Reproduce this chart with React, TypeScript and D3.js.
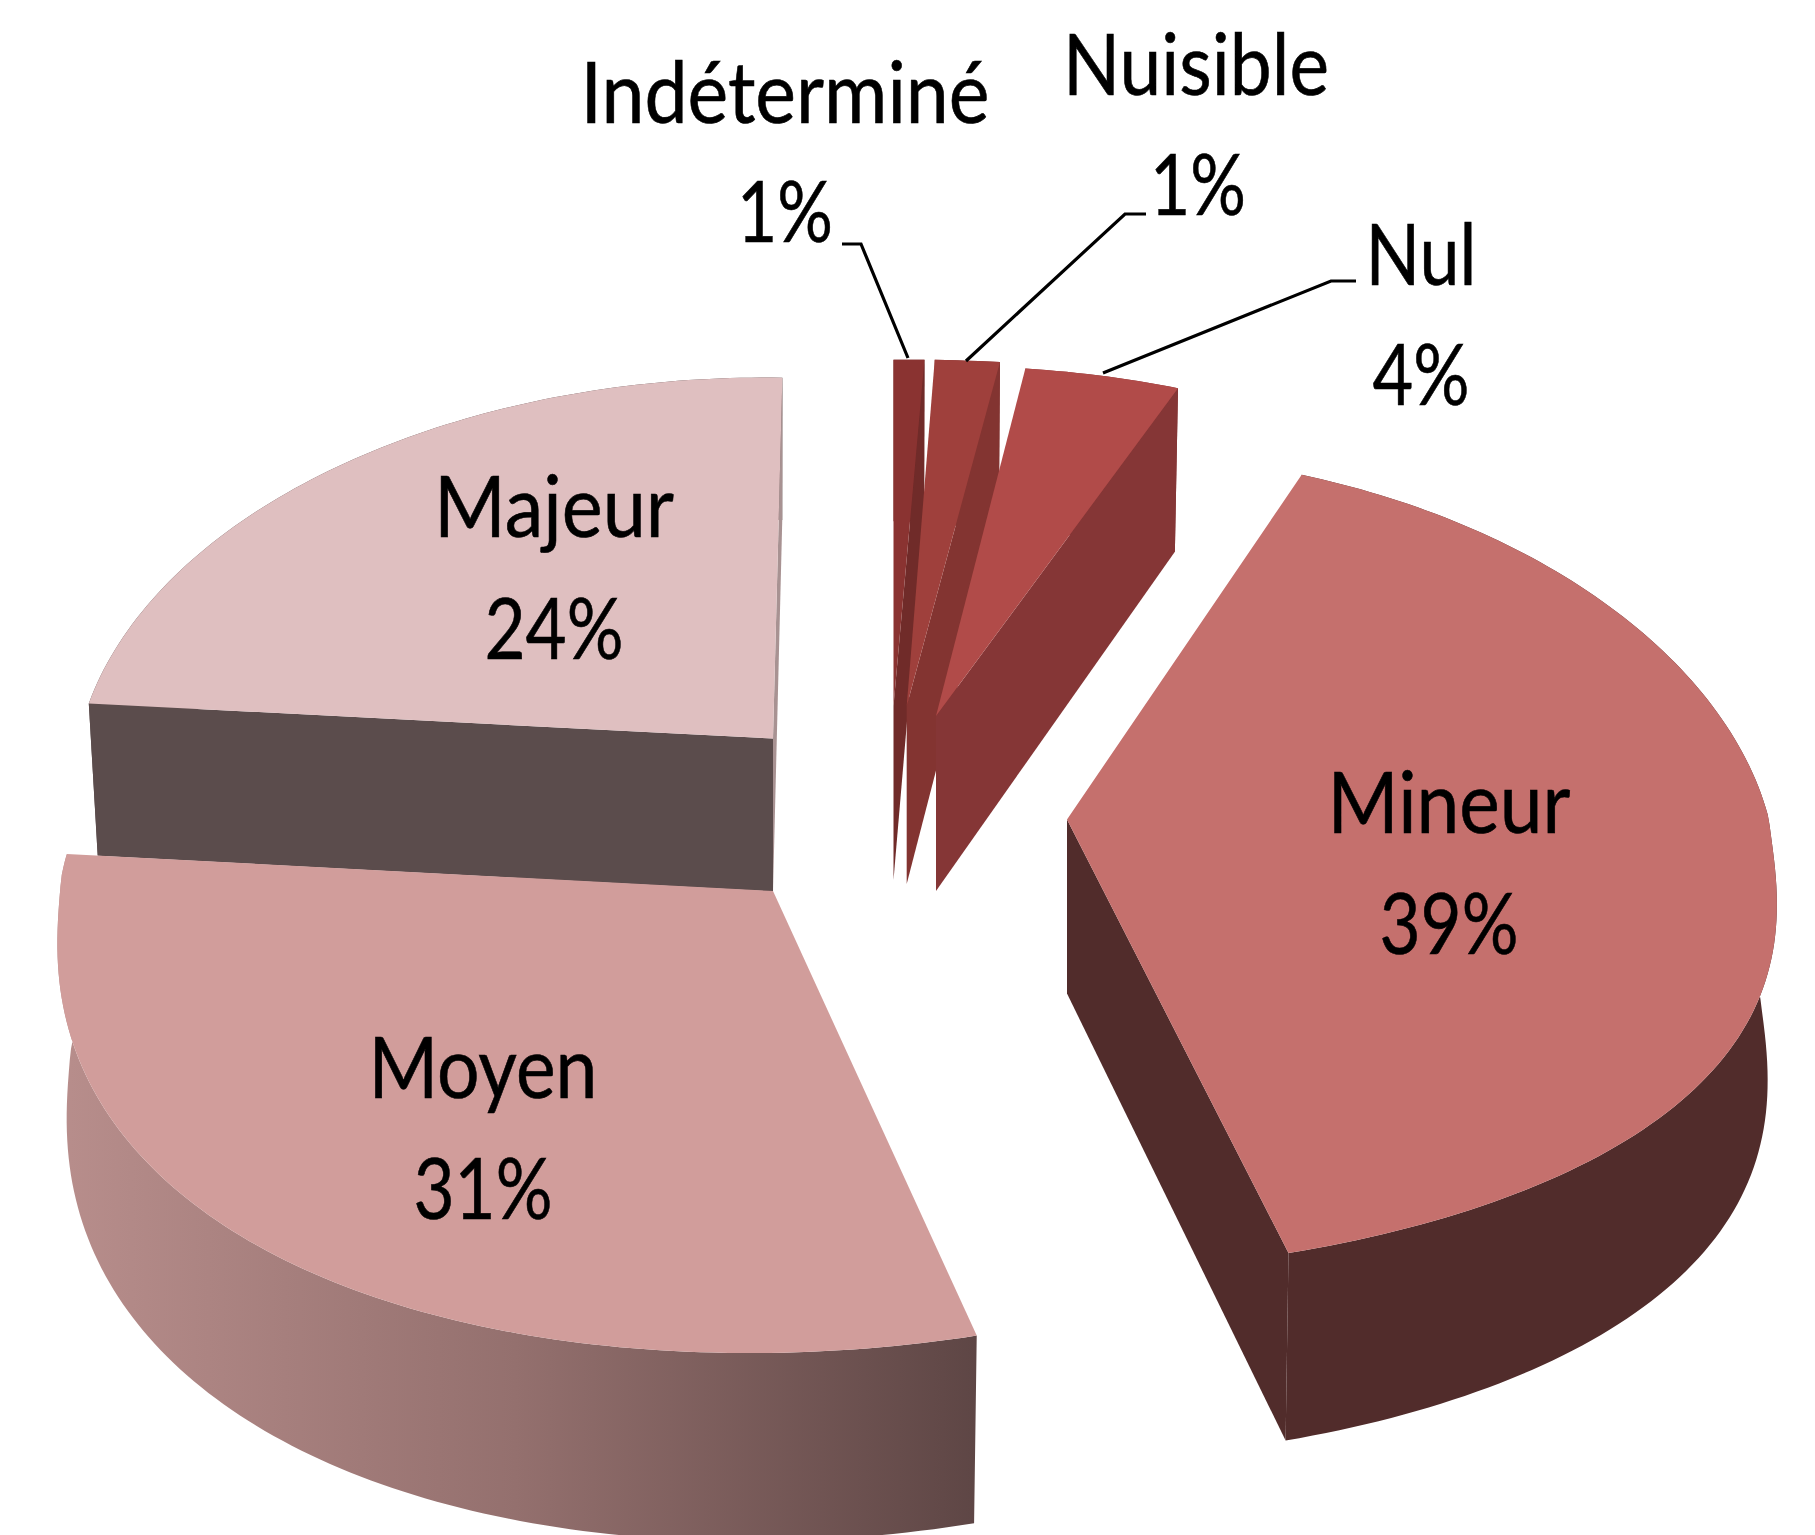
import React from "react";
import * as d3 from "d3";

const categories = ["Indéterminé", "Nuisible", "Nul", "Mineur", "Moyen", "Majeur"];
const shares = [0.6, 1.4, 4, 39, 31, 24];
const percentLabels = ["1%", "1%", "4%", "39%", "31%", "24%"];

const topColors = ["#8a3331", "#9f403c", "#b14b49", "#c5706d", "#d19d9b", "#dfbfc0"];
const cutColors = ["#702b29", "#833431", "#853636", "#512c2b", "#5e4645", "#5b4c4c"];

// layout of each exploded slice: apex, radius, thickness
const apexX = [893.5, 906.7, 936, 1067, 773, 773];
const apexY = [706, 706, 716, 819.5, 891, 738.5];
const radii = [945, 855, 722, 702, 712, 692];
const depths = [174, 178, 175, 174, 174, 153];
const skewBack = [0, 0, -0.03, -0.027, 0, -0.026];
const skewFront = [0, 0, 0, -0.08, -0.1, 0];
const widen = [0.15, 0.15, 0.15, 0.15, 0.1, 0.15];
const yBack = [0.96, 0.96, 0.97, 1.02, 1, 1];
const yFront = [1, 1, 1, 0.995, 1.012, 1];
const tilt = [0, 0, 0, 0, 12, 10];

const nameX = [785, 1196, 1421, 1449, 483, 554];
const nameY = [123, 95, 285, 833, 1098, 537];
const nameW = [409, 266, 111, 243, 229, 240];
const pctX = [785, 1198, 1421, 1449, 483, 554];
const pctY = [242, 215, 405, 954, 1219, 659];
const pctW = [96, 96, 97, 139, 139, 139];

const leaders: [number, number][][] = [
  [[842, 244], [861, 244], [908, 358]],
  [[1146, 214], [1125, 214], [966, 361]],
  [[1356, 281], [1331, 281], [1103, 373]],
];

const A = 403;
const B = 0.117;
const DP = 0.076;
const INSET = 0.987;
const FRONT_POWER = 0.82;

const pieGen = d3.pie<number>().sort(null).value((d) => d);
const arcs = pieGen(shares);
const line = d3.line<[number, number]>();

function pt(i: number, t: number, bottom = false): [number, number] {
  const u = Math.sin(t);
  const v = -Math.cos(t);
  const vy = v > 0 ? Math.pow(v, FRONT_POWER) : v;
  const Y0 = (A * vy) / (1 - B * vy);
  const skew = Y0 < 0 ? skewBack[i] : skewFront[i];
  const Y = Y0 * (Y0 < 0 ? yBack[i] : yFront[i]) + tilt[i] * u;
  const dx = (radii[i] * u) / (1 - widen[i] * v) + skew * Y0 * v * v;
  if (!bottom) return [apexX[i] + dx, apexY[i] + Y];
  return [apexX[i] + dx * INSET, apexY[i] + Y + depths[i] / (1 - DP * v)];
}

function samples(a: number, b: number) {
  const n = Math.max(2, Math.ceil(((b - a) * 180) / Math.PI));
  return d3.range(n + 1).map((k) => a + ((b - a) * k) / n);
}

export default function App() {
  const order = [5, 0, 1, 2, 3, 4];
  return (
    <svg
      width={1815}
      height={1535}
      viewBox="0 0 1815 1535"
      style={{ position: "absolute", left: 0, top: 0, background: "#fff" }}
    >
      <defs>
        <linearGradient id="moyenWall" gradientUnits="userSpaceOnUse" x1={55} x2={976} y1={0} y2={0}>
          <stop offset="0" stopColor="#b88e8c" />
          <stop offset="0.5" stopColor="#94706e" />
          <stop offset="1" stopColor="#5e4645" />
        </linearGradient>
      </defs>
      {order.map((i) => {
        const a = arcs[i];
        const ts = samples(a.startAngle, a.endAngle);
        const topArc = ts.map((t) => pt(i, t));
        const botArc = ts.map((t) => pt(i, t, true));
        const apex: [number, number] = [apexX[i], apexY[i]];
        const apexB: [number, number] = [apexX[i], apexY[i] + depths[i]];
        const wall = [...topArc, ...botArc.slice().reverse()];
        const cutEnd: [number, number][] = [topArc[topArc.length - 1], botArc[botArc.length - 1], apexB, apex];
        const cutStart: [number, number][] = [topArc[0], botArc[0], apexB, apex];
        const top = [apex, ...topArc];
        const wallFill = i === 4 ? "url(#moyenWall)" : cutColors[i];
        return (
          <g key={categories[i]}>
            <path d={line(wall)! + "Z"} fill={wallFill} />
            {i < 4 && <path d={line(cutEnd)! + "Z"} fill={cutColors[i]} />}
            {i === 5 && <path d={line(cutEnd)! + "Z"} fill="#a89292" />}
            {i === 5 && <path d={line(cutStart)! + "Z"} fill={cutColors[i]} />}
            <path d={line(top)! + "Z"} fill={topColors[i]} />
          </g>
        );
      })}
      {leaders.map((l, k) => (
        <path key={k} d={line(l)!} fill="none" stroke="#000" strokeWidth={3.2} />
      ))}
      <g fontFamily="Lato" fontSize={86} fill="#000" stroke="#000" strokeWidth={0.6} textAnchor="middle">
        {categories.map((c, i) => (
          <g key={c}>
            <text x={nameX[i]} y={nameY[i]} textLength={nameW[i]} lengthAdjust="spacingAndGlyphs">{c}</text>
            <text x={pctX[i]} y={pctY[i]} textLength={pctW[i]} lengthAdjust="spacingAndGlyphs">{percentLabels[i]}</text>
          </g>
        ))}
      </g>
    </svg>
  );
}
